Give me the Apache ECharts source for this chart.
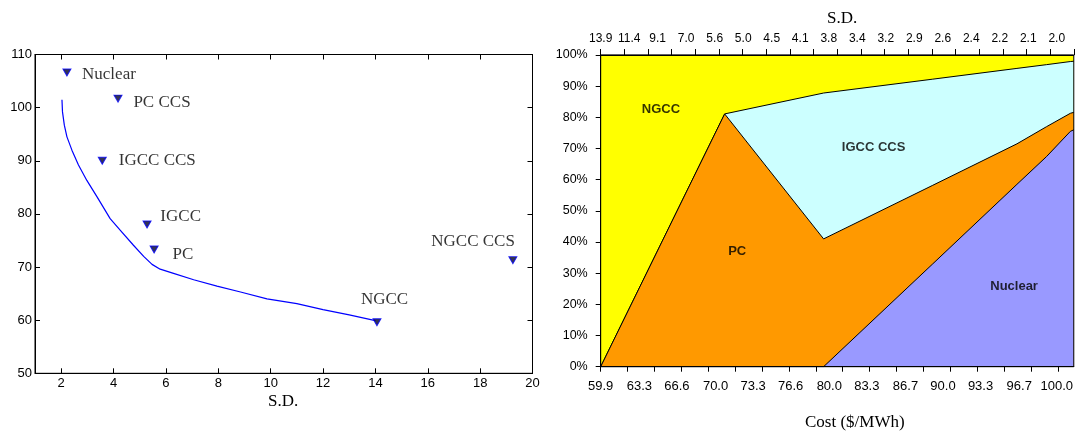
<!DOCTYPE html>
<html><head><meta charset="utf-8">
<script src="https://cdn.jsdelivr.net/npm/echarts@6/dist/echarts.min.js"></script>
<style>html,body{margin:0;padding:0;background:#fff}#c{width:1076px;height:433px}</style>
</head><body><div id="c"></div>
<script>
// ---- Left chart: technologies (S.D. vs cost) ----
const techNames = ['Nuclear', 'PC CCS', 'IGCC CCS', 'IGCC', 'PC', 'NGCC', 'NGCC CCS'];
const techSD    = [2.22, 4.17, 3.57, 5.28, 5.55, 14.06, 19.25];
const techCost  = [106.6, 101.7, 90.0, 78.0, 73.3, 59.6, 71.3];

// efficient frontier
const frontierSD   = [2.03, 2.05, 2.12, 2.22, 2.41, 2.66, 2.98, 3.37, 3.87, 4.26, 4.76, 5.15, 5.47, 5.78, 6.29, 7.06, 7.95, 8.85, 9.86, 11.0, 12.0, 13.0, 14.0];
const frontierCost = [101.5, 99.2, 96.7, 94.5, 92.0, 89.2, 86.3, 83.2, 79.1, 76.9, 74.1, 72.0, 70.5, 69.6, 68.8, 67.6, 66.4, 65.3, 64.0, 63.1, 62.0, 61.0, 59.9];

const leftXTicks = [2, 4, 6, 8, 10, 12, 14, 16, 18, 20];

// ---- Right chart: portfolio mix along frontier ----
const mixCost       = [59.9, 70.8, 79.5, 89.1, 96.5, 99.1, 101.2, 101.5];
const shareNuclear  = [0, 0, 0, 33.0, 58.5, 67.4, 75.5, 76.0];
const sharePC       = [0, 81.1, 41.0, 25.2, 13.0, 9.6, 5.8, 5.6];
const shareIGCCCCS  = [0, 0, 46.8, 34.05, 24.2, 19.9, 16.6, 16.4];
const shareNGCC     = [100, 18.9, 12.2, 7.75, 4.3, 3.1, 2.1, 2.0];

const costLabels = ['59.9', '63.3', '66.6', '70.0', '73.3', '76.6', '80.0', '83.3', '86.7', '90.0', '93.3', '96.7', '100.0'];
const sdLabels   = ['13.9', '11.4', '9.1', '7.0', '5.6', '5.0', '4.5', '4.1', '3.8', '3.4', '3.2', '2.9', '2.6', '2.4', '2.2', '2.1', '2.0'];

const areaNames      = ['NGCC', 'PC', 'IGCC CCS', 'Nuclear'];
const areaLabelCost  = [65.2, 71.9, 83.9, 96.25];
const areaLabelShare = [82.6, 36.9, 70.4, 25.7];

// ---- layout / style ----
const SANS = 'Liberation Sans, Arial, sans-serif';
const SERIF = 'Liberation Serif, Times New Roman, serif';
const costMin = 59.9, costMax = 101.5;
const labelOffsets = [[42, 2], [44, 3.6], [55, 0], [33.6, -7.6], [28.7, 5], [7.6, -22.4], [-39.8, -18.3]];

const bottomTickVals = Array.from({length: 18}, (_, k) => costMin + k * 2.3645);
const topTickVals = Array.from({length: 21}, (_, k) => costMin + k * (costMax - costMin) / 20);
const sdStep = (100.0 - costMin) / 16;
const sdLabelVals = sdLabels.map((_, k) => costMin + k * sdStep);

// cumulative shares (bottom to top), drawn as overlapping areas filled to 0%
const layers = [
  {name: 'NGCC', color: '#ffff00'},
  {name: 'IGCC CCS', color: '#ccffff'},
  {name: 'PC', color: '#ff9900'},
  {name: 'Nuclear', color: '#9999ff'}
];
const cumNuclear = shareNuclear.slice();
const cumPC = cumNuclear.map((v, i) => v + sharePC[i]);
const cumIGCC = cumPC.map((v, i) => v + shareIGCCCCS[i]);
const cumNGCC = cumIGCC.map((v, i) => v + shareNGCC[i]);
const cumByLayer = [cumNGCC, cumIGCC, cumPC, cumNuclear];

const chart = echarts.init(document.getElementById('c'), null, {renderer: 'canvas'});
const blackLine = {lineStyle: {color: '#000', width: 1}};

const areaSeries = layers.map((L, j) => ({
  type: 'line', xAxisIndex: 2, yAxisIndex: 2, name: L.name,
  data: mixCost.map((c, i) => [c, cumByLayer[j][i]]),
  symbol: 'none', z: 2 + j,
  lineStyle: {color: '#000', width: 1},
  areaStyle: {color: L.color, opacity: 1, origin: 'start'}
}));

const option = {
  animation: false,
  backgroundColor: '#fff',
  grid: [
    {left: 35, top: 54.5, width: 497.5, height: 318.8, show: true, borderColor: '#000', borderWidth: 1, backgroundColor: 'transparent'},
    {left: 600.7, top: 55, width: 473.3, height: 311.7, show: true, borderColor: '#000', borderWidth: 1, backgroundColor: 'transparent', z: 20}
  ],
  xAxis: [
    {gridIndex: 0, type: 'value', min: 1, max: 20, position: 'bottom',
     axisLine: blackLine, splitLine: {show: false},
     axisTick: {inside: true, length: 5, lineStyle: {color: '#000'}, customValues: leftXTicks},
     axisLabel: {customValues: leftXTicks, color: '#000', fontFamily: SANS, fontSize: 13, margin: 4}},
    {gridIndex: 0, type: 'value', min: 1, max: 20, position: 'top',
     axisLine: blackLine, splitLine: {show: false},
     axisTick: {inside: true, length: 5, lineStyle: {color: '#000'}, customValues: leftXTicks},
     axisLabel: {show: false}},
    {gridIndex: 1, type: 'value', min: costMin, max: costMax, position: 'bottom',
     axisLine: blackLine, splitLine: {show: false}, z: 20,
     axisTick: {inside: false, length: 5, lineStyle: {color: '#000'}, customValues: bottomTickVals},
     axisLabel: {customValues: costLabels.map(Number), formatter: v => v.toFixed(1),
                 color: '#000', fontFamily: SANS, fontSize: 13, margin: 13}},
    {gridIndex: 1, type: 'value', min: costMin, max: costMax, position: 'top',
     axisLine: blackLine, splitLine: {show: false}, z: 20,
     axisTick: {inside: false, length: 6, lineStyle: {color: '#000'}, customValues: topTickVals},
     axisLabel: {customValues: sdLabelVals,
                 formatter: v => sdLabels[Math.round((v - costMin) / sdStep)],
                 color: '#000', fontFamily: SANS, fontSize: 12, margin: 10}}
  ],
  yAxis: [
    {gridIndex: 0, type: 'value', min: 50, max: 110, interval: 10, position: 'left',
     axisLine: {show: true, lineStyle: {color: '#000'}}, splitLine: {show: false},
     axisTick: {show: true, inside: true, length: 5, lineStyle: {color: '#000'}},
     axisLabel: {color: '#000', fontFamily: SANS, fontSize: 13, margin: 3}},
    {gridIndex: 0, type: 'value', min: 50, max: 110, interval: 10, position: 'right',
     axisLine: {show: true, lineStyle: {color: '#000'}}, splitLine: {show: false},
     axisTick: {show: true, inside: true, length: 5, lineStyle: {color: '#000'}},
     axisLabel: {show: false}},
    {gridIndex: 1, type: 'value', min: 0, max: 100, interval: 10, position: 'left',
     axisLine: {show: true, lineStyle: {color: '#000'}}, splitLine: {show: false}, z: 20,
     axisTick: {show: true, inside: false, length: 5, lineStyle: {color: '#000'}},
     axisLabel: {formatter: '{value}%', color: '#000', fontFamily: SANS, fontSize: 12.5, margin: 13}}
  ],
  series: [
    {type: 'line', xAxisIndex: 0, yAxisIndex: 0, name: 'Frontier',
     data: frontierSD.map((s, i) => [s, frontierCost[i]]),
     symbol: 'none', lineStyle: {color: '#0000ff', width: 1.2}, z: 3},
    {type: 'scatter', xAxisIndex: 0, yAxisIndex: 0, name: 'Technologies',
     symbol: 'triangle', symbolRotate: 180, symbolSize: [8, 7],
     itemStyle: {color: '#000028', borderColor: '#0000ff', borderWidth: 1}, z: 4,
     data: techNames.map((n, i) => ({
       name: n, value: [techSD[i], techCost[i]],
       label: {show: true, formatter: n, position: 'inside', offset: labelOffsets[i],
               color: '#000', fontFamily: SERIF, fontSize: 17}
     }))},
    ...areaSeries,
    {type: 'scatter', xAxisIndex: 2, yAxisIndex: 2, name: 'Area labels', symbolSize: 0, z: 10,
     data: areaNames.map((n, i) => ({name: n, value: [areaLabelCost[i], areaLabelShare[i]]})),
     label: {show: true, position: 'inside', formatter: p => p.name,
             color: '#000', fontFamily: SANS, fontSize: 13, fontWeight: 'bold'}}
  ],
  graphic: [
    {type: 'text', left: 268, top: 393, style: {text: 'S.D.', font: '17px ' + SERIF, fill: '#000'}},
    {type: 'text', left: 827, top: 10, style: {text: 'S.D.', font: '17px ' + SERIF, fill: '#000'}},
    {type: 'text', left: 805, top: 414, style: {text: 'Cost ($/MWh)', font: '17px ' + SERIF, fill: '#000'}}
  ]
};
chart.setOption(option);
</script>
</body></html>
